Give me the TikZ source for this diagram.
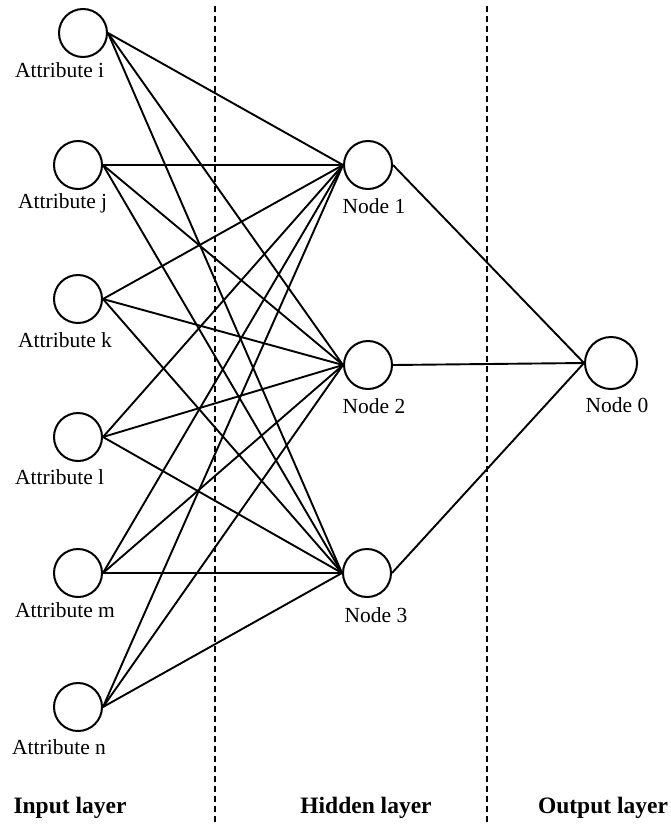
\documentclass[tikz,border=0pt]{standalone}
\usepackage{fontspec}
\setmainfont{Liberation Serif}
\begin{document}
\begin{tikzpicture}[x=1pt,y=-1pt,
  neuron/.style={circle,draw,line width=2pt,minimum size=48pt,inner sep=0pt},
  lbl/.style={font=\fontsize{21.5}{23}\selectfont, inner sep=0pt},
  conn/.style={line width=1.9pt},
  sep/.style={line width=1.3pt, dash pattern=on 6pt off 4pt},
  layer/.style={font=\bfseries\fontsize{23.5}{25}\selectfont, inner sep=0pt}]
\useasboundingbox (0,0) rectangle (670,827);
% input neurons
\node[neuron] (ai) at (83,33) {};
\node[neuron] (aj) at (78,165) {};
\node[neuron] (ak) at (78,299) {};
\node[neuron] (al) at (78,437) {};
\node[neuron] (am) at (78,573) {};
\node[neuron] (an) at (78,707) {};
% labels
\node[lbl,anchor=west] (li) at (15,70) {Attribute i};
\node[lbl,anchor=west] (lj) at (18,203) {Attribute j};
\node[lbl,anchor=west] (lk) at (18,340) {Attribute k};
\node[lbl,anchor=west] (ll) at (15,477) {Attribute l};
\node[lbl,anchor=west] (lm) at (15,610) {Attribute m};
\node[lbl,anchor=west] (ln) at (12,747) {Attribute n};
% hidden
\node[neuron] (h1) at (368,165) {};
\node[neuron] (h2) at (368,365) {};
\node[neuron] (h3) at (367,573) {};
\node[lbl] (lh1) at (374,206) {Node 1};
\node[lbl] (lh2) at (374,406) {Node 2};
\node[lbl] (lh3) at (376,615) {Node 3};
% output
\node[neuron,minimum size=52pt] (o) at (611,363) {};
\node[lbl] (lo) at (617,405) {Node 0};
% connections
\foreach \a in {ai,aj,ak,al,am,an}{
  \foreach \h in {h1,h2,h3}{
    \draw[conn] (\a.east) -- (\h.west);
  }
}
\foreach \h in {h1,h2,h3}{
  \draw[conn] (\h.east) -- (o.west);
}
% separators
\coordinate (s1t) at (215,6);
\coordinate (s1b) at (215,822);
\coordinate (s2t) at (487,6);
\coordinate (s2b) at (487,822);
\draw[sep] (s1t) -- (s1b);
\draw[sep] (s2t) -- (s2b);
% layer names
\node[layer] (ti) at (70,808) {Input layer};
\node[layer] (th) at (366,808) {Hidden layer};
\node[layer] (to) at (603,808) {Output layer};
\end{tikzpicture}
\end{document}
